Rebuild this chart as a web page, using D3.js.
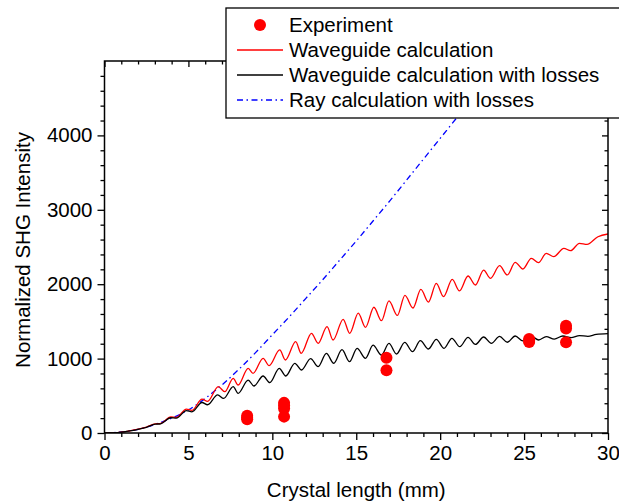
<!DOCTYPE html>
<html>
<head>
<meta charset="utf-8">
<script src="https://cdn.jsdelivr.net/npm/d3@7"></script>
<style>
  html, body { margin: 0; padding: 0; background: #fff; }
  svg { display: block; font-family: "Liberation Sans", Arial, sans-serif; }
</style>
</head>
<body>
<svg id="chart" width="619" height="504"></svg>
<script>
// ---- data ----
const xTicks = [0, 5, 10, 15, 20, 25, 30];
const yTicks = [0, 1000, 2000, 3000, 4000];
const legendLabels = ["Experiment", "Waveguide calculation", "Waveguide calculation with losses", "Ray calculation with losses"];
const xTitle = "Crystal length (mm)";
const yTitle = "Normalized SHG Intensity";

// Experiment points
const expX = [8.5, 8.5, 8.5, 10.7, 10.7, 10.7, 10.7, 16.8, 16.8, 25.3, 25.3, 25.3, 27.5, 27.5, 27.5];
const expY = [185, 205, 231, 220, 330, 370, 405, 1013, 843, 1262, 1240, 1222, 1440, 1405, 1220];

// Waveguide calculation (red), extrema
const waveguide = [[0,0],[0.5,3],[1,12],[1.5,28],[2,52],[2.5,80],[3.02,122],[3.35,128],[3.95,215],[4.28,210],[4.88,322],[5.21,305],[5.81,455],[6.14,425],[6.78,622],[7.17,555],[7.67,735],[7.96,645],[8.56,869],[8.85,802],[9.45,1004],[9.81,905],[10.44,1116],[10.78,981],[11.39,1228],[11.72,1071],[12.33,1340],[12.73,1205],[13.26,1429],[13.62,1250],[14.22,1528],[14.61,1340],[15.12,1610],[15.55,1420],[16.05,1690],[16.5,1510],[16.95,1775],[17.45,1580],[17.9,1850],[18.38,1680],[18.85,1930],[19.3,1760],[19.77,2010],[20.2,1832],[20.72,2065],[21.15,1910],[21.66,2110],[22.1,1989],[22.59,2190],[23.0,2079],[23.54,2249],[24.0,2124],[24.47,2294],[24.93,2204],[25.43,2348],[25.86,2289],[26.32,2415],[26.77,2370],[27.37,2482],[27.77,2450],[28.3,2550],[28.75,2535],[29.4,2638],[30,2675]];

// Waveguide calculation with losses (black)
const waveguideLoss = [[0,0],[0.5,3],[1,12],[1.5,28],[2,50],[2.5,77],[3.02,118],[3.35,124],[3.95,205],[4.28,200],[4.88,300],[5.21,285],[5.81,410],[6.14,380],[6.74,512],[7.1,465],[7.67,622],[7.96,533],[8.56,712],[8.9,632],[9.45,766],[9.85,676],[10.41,869],[10.8,766],[11.34,937],[11.74,847],[12.28,1000],[12.73,892],[13.22,1070],[13.66,937],[14.15,1120],[14.6,959],[15.05,1138],[15.55,1004],[16.0,1180],[16.5,1048],[16.95,1205],[17.4,1062],[17.89,1219],[18.35,1093],[18.82,1241],[19.3,1129],[19.77,1259],[20.23,1138],[20.7,1273],[21.17,1160],[21.66,1286],[22.1,1190],[22.59,1290],[23.05,1205],[23.54,1298],[24.0,1220],[24.47,1304],[24.93,1237],[25.43,1300],[25.87,1250],[26.32,1296],[26.8,1263],[27.31,1304],[27.8,1281],[28.3,1310],[28.8,1300],[29.3,1325],[30,1335]];

// Ray calculation with losses (blue dash-dot)
const rayLoss = [[0,0],[1,14],[2,50],[3,115],[4,200],[5,310],[6,465],[7,645],[8,855],[9,1080],[10,1320],[11,1560],[12,1810],[13,2060],[14,2320],[15,2580],[16,2850],[17,3120],[18,3400],[19,3680],[20,3960],[21,4240],[22,4520],[23,4800]];

// ---- drawing ----
const svg = d3.select("#chart");
const FONT = "20.5px";
const x = d3.scaleLinear().domain([0, 30]).range([104.5, 608]);
const y = d3.scaleLinear().domain([0, 5000]).range([433, 61]);

svg.append("defs").append("clipPath").attr("id", "plotclip")
  .append("rect").attr("x", x(0)).attr("y", y(5000)).attr("width", x(30) - x(0)).attr("height", y(0) - y(5000));

const plot = svg.append("g").attr("clip-path", "url(#plotclip)");
const line = d3.line().x(d => x(d[0])).y(d => y(d[1])).curve(d3.curveMonotoneX);

plot.append("path").datum(rayLoss).attr("d", line)
  .attr("fill", "none").attr("stroke", "#0000ff").attr("stroke-width", 1.3)
  .attr("stroke-dasharray", "6,3.5,1.5,3.5");
plot.append("path").datum(waveguide).attr("d", line)
  .attr("fill", "none").attr("stroke", "#ff0000").attr("stroke-width", 1.3);
plot.append("path").datum(waveguideLoss).attr("d", line)
  .attr("fill", "none").attr("stroke", "#000000").attr("stroke-width", 1.3);

plot.selectAll("circle.exp").data(expX.map((v, i) => [v, expY[i]])).enter()
  .append("circle").attr("class", "exp")
  .attr("cx", d => x(d[0])).attr("cy", d => y(d[1])).attr("r", 6)
  .attr("fill", "#ff0000");

// axes
const minorX = d3.range(0, 31, 1).filter(v => v % 5 !== 0);
const minorY = d3.range(0, 5001, 200).filter(v => v % 1000 !== 0);

function styleAxis(g) {
  g.select(".domain").remove();
  g.selectAll("line").attr("stroke", "#000").attr("stroke-width", 1.3);
  g.selectAll("text").attr("fill", "#000").style("font-size", FONT)
    .style("font-family", '"Liberation Sans", Arial, sans-serif');
}

// bottom
svg.append("g").attr("transform", `translate(0,${y(0)})`)
  .call(d3.axisBottom(x).tickValues(xTicks).tickSize(7).tickPadding(5).tickFormat(d3.format("d")))
  .call(styleAxis);
svg.append("g").attr("transform", `translate(0,${y(0)})`)
  .call(d3.axisBottom(x).tickValues(minorX).tickSize(4).tickFormat(""))
  .call(styleAxis);
// left
svg.append("g").attr("transform", `translate(${x(0)},0)`)
  .call(d3.axisLeft(y).tickValues(yTicks).tickSize(7).tickPadding(5).tickFormat(d3.format("d")))
  .call(styleAxis);
svg.append("g").attr("transform", `translate(${x(0)},0)`)
  .call(d3.axisLeft(y).tickValues(minorY).tickSize(4).tickFormat(""))
  .call(styleAxis);
// top (inward)
svg.append("g").attr("transform", `translate(0,${y(5000)})`)
  .call(d3.axisTop(x).tickValues(xTicks).tickSize(-6).tickFormat(""))
  .call(styleAxis);
svg.append("g").attr("transform", `translate(0,${y(5000)})`)
  .call(d3.axisTop(x).tickValues(minorX).tickSize(-3.5).tickFormat(""))
  .call(styleAxis);
// right (inward)
svg.append("g").attr("transform", `translate(${x(30)},0)`)
  .call(d3.axisRight(y).tickValues(yTicks).tickSize(-6).tickFormat(""))
  .call(styleAxis);
svg.append("g").attr("transform", `translate(${x(30)},0)`)
  .call(d3.axisRight(y).tickValues(minorY).tickSize(-3.5).tickFormat(""))
  .call(styleAxis);

// frame
svg.append("rect").attr("x", x(0)).attr("y", y(5000))
  .attr("width", x(30) - x(0)).attr("height", y(0) - y(5000))
  .attr("fill", "none").attr("stroke", "#000").attr("stroke-width", 1.5);

// axis titles
svg.append("text").attr("x", (x(0) + x(30)) / 2).attr("y", 497)
  .attr("text-anchor", "middle").style("font-size", FONT).text(xTitle);
svg.append("text").attr("transform", `translate(30,250) rotate(-90)`)
  .attr("text-anchor", "middle").style("font-size", FONT).text(yTitle);

// legend
const lg = svg.append("g");
lg.append("rect").attr("x", 226).attr("y", 8).attr("width", 420).attr("height", 110)
  .attr("fill", "#fff").attr("stroke", "#000").attr("stroke-width", 1.3);
const rows = [25, 50, 75, 100];
lg.append("circle").attr("cx", 260).attr("cy", rows[0]).attr("r", 6).attr("fill", "#ff0000");
lg.append("line").attr("x1", 237).attr("x2", 283).attr("y1", rows[1]).attr("y2", rows[1])
  .attr("stroke", "#ff0000").attr("stroke-width", 1.3);
lg.append("line").attr("x1", 237).attr("x2", 283).attr("y1", rows[2]).attr("y2", rows[2])
  .attr("stroke", "#000").attr("stroke-width", 1.3);
lg.append("line").attr("x1", 237).attr("x2", 283).attr("y1", rows[3]).attr("y2", rows[3])
  .attr("stroke", "#0000ff").attr("stroke-width", 1.3).attr("stroke-dasharray", "6,3.5,1.5,3.5");
lg.selectAll("text.lab").data(legendLabels).enter().append("text").attr("class", "lab")
  .attr("x", 289).attr("y", (d, i) => rows[i] + 7.3)
  .style("font-size", FONT).text(d => d);
</script>
</body>
</html>
